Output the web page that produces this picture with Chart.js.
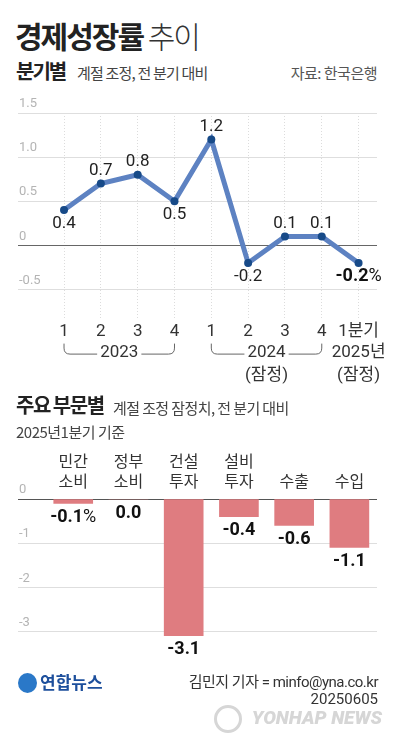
<!DOCTYPE html>
<html>
<head>
<meta charset="utf-8">
<script src="https://cdn.jsdelivr.net/npm/chart.js@4.4.1/dist/chart.umd.min.js"></script>
<style>
body{margin:0;width:396px;height:750px;background:#fff;position:relative;overflow:hidden;
  font-family:Roboto,"Noto Sans CJK KR",sans-serif;color:#222}
.t{position:absolute;white-space:nowrap;line-height:1}
canvas{position:absolute;left:0}
</style>
</head>
<body>
<div class="t" style="left:15px;top:20px;font-size:30px;letter-spacing:-2px;font-family:'Noto Sans CJK KR'"><b>경제성장률</b> <span style="font-weight:300;color:#333">추이</span></div>
<div class="t" style="left:16px;top:61px;font-size:20px;letter-spacing:-2px;font-family:'Noto Sans CJK KR'"><b>분기별</b></div>
<div class="t" style="left:77px;top:65px;font-size:15px;color:#444;letter-spacing:-0.8px;font-family:'Noto Sans CJK KR'">계절 조정, 전 분기 대비</div>
<div class="t" style="right:19px;top:65px;font-size:15px;color:#555;letter-spacing:-0.5px;font-family:'Noto Sans CJK KR'">자료: 한국은행</div>

<canvas id="growthChart" width="396" height="300" style="top:92px"></canvas>

<div class="t" style="left:16px;top:395px;font-size:20px;letter-spacing:-1.5px;font-family:'Noto Sans CJK KR'"><b>주요 부문별</b></div>
<div class="t" style="left:113px;top:400px;font-size:15px;color:#444;letter-spacing:-0.6px;font-family:'Noto Sans CJK KR'">계절 조정 잠정치, 전 분기 대비</div>
<div class="t" style="left:16px;top:424px;font-size:15px;color:#444;letter-spacing:-0.5px;font-family:'Noto Sans CJK KR'">2025년1분기 기준</div>

<canvas id="sectorChart" width="396" height="225" style="top:440px"></canvas>

<div class="t" style="left:18px;top:673px;width:19px;height:20px;border-radius:50%;background:#2a78c8"></div>
<div class="t" style="left:40px;top:673px;font-size:17px;font-weight:700;color:#1d4f9c;font-family:'Noto Sans CJK KR'">연합뉴스</div>
<div class="t" style="right:18px;top:675px;font-size:15px;color:#333;letter-spacing:-0.5px">김민지 기자 = minfo@yna.co.kr</div>
<div class="t" style="right:18px;top:692px;font-size:15px;color:#333">20250605</div>
<div class="t" style="left:214px;top:705px;width:22px;height:22px;border-radius:50%;border:3px solid #d6d6d6"></div>
<div class="t" style="right:14px;top:708px;font-size:19px;font-weight:900;font-style:italic;color:#d6d6d6">YONHAP NEWS</div>

<script>
// 분기별 경제성장률 (%)
var quarterLabels = ['1', '2', '3', '4', '1', '2', '3', '4', '1분기'];
var growthValues = [0.4, 0.7, 0.8, 0.5, 1.2, -0.2, 0.1, 0.1, -0.2];
var growthTicks = [1.5, 1, 0.5, 0, -0.5];
var growthTickLabels = ['1.5', '1.0', '0.5', '0', '-0.5'];
var yearLabels = ['2023', '2024', '2025년'];
var yearStart = [0, 4, 8];
var yearEnd = [3, 7, 8];
var yearNotes = ['', '(잠정)', '(잠정)'];

// 주요 부문별
var sectorLabels = [['민간', '소비'], ['정부', '소비'], ['건설', '투자'], ['설비', '투자'], ['수출'], ['수입']];
var sectorValues = [-0.1, 0.0, -3.1, -0.4, -0.6, -1.1];
var sectorTicks = [0, -1, -2, -3];
var sectorTickLabels = ['0', '-1', '-2', '-3'];

Chart.defaults.font.family = 'Roboto, "Noto Sans CJK KR", sans-serif';

function fmt(v) { return v.toFixed(1); }

function drawValue(ctx, text, x, y, bold, unit) {
  var size = bold ? 18 : 17;
  ctx.font = (bold ? '700 ' : '400 ') + size + 'px Roboto, "Noto Sans CJK KR"';
  var w1 = ctx.measureText(text).width;
  ctx.font = '400 ' + size + 'px Roboto';
  var w2 = unit ? ctx.measureText(unit).width : 0;
  var left = x - (w1 + w2) / 2;
  ctx.textAlign = 'left';
  ctx.textBaseline = 'middle';
  ctx.fillStyle = bold ? '#111' : '#222';
  ctx.font = (bold ? '700 ' : '400 ') + size + 'px Roboto, "Noto Sans CJK KR"';
  ctx.fillText(text, left, y);
  if (unit) {
    ctx.font = '400 ' + size + 'px Roboto';
    ctx.fillText(unit, left + w1, y);
  }
}

var growthLabelsPlugin = {
  id: 'growthLabels',
  afterDatasetsDraw: function(chart) {
    var ctx = chart.ctx;
    var meta = chart.getDatasetMeta(0);
    var last = growthValues.length - 1;
    ctx.save();
    meta.data.forEach(function(pt, i) {
      var v = growthValues[i];
      var prev = i > 0 ? growthValues[i - 1] : Infinity;
      var next = i < last ? growthValues[i + 1] : Infinity;
      var below = v < prev && v < next;
      var y = below ? pt.y + 14 : pt.y - 13;
      drawValue(ctx, fmt(v), pt.x, y, i === last, i === last ? '%' : '');
    });
    ctx.restore();
  }
};

var yearBracketPlugin = {
  id: 'yearBrackets',
  afterDraw: function(chart) {
    var ctx = chart.ctx;
    var xs = chart.scales.x;
    var base = chart.chartArea.bottom;
    ctx.save();
    ctx.font = '400 17px Roboto, "Noto Sans CJK KR"';
    ctx.textAlign = 'center';
    ctx.textBaseline = 'middle';
    ctx.fillStyle = '#333';
    ctx.strokeStyle = '#666';
    ctx.lineWidth = 1;
    yearLabels.forEach(function(label, g) {
      var x0 = xs.getPixelForValue(yearStart[g]);
      var x1 = xs.getPixelForValue(yearEnd[g]);
      var cx = (x0 + x1) / 2;
      var ty = base + 35;
      ctx.fillText(label, cx, ty);
      if (yearNotes[g]) ctx.fillText(yearNotes[g], cx, ty + 23);
      if (x1 > x0) {
        var half = ctx.measureText(label).width / 2 + 3;
        var top = base + 26, ly = base + 36.5, r = 6;
        ctx.beginPath();
        ctx.moveTo(x0, top);
        ctx.lineTo(x0, ly - r);
        ctx.quadraticCurveTo(x0, ly, x0 + r, ly);
        ctx.lineTo(cx - half, ly);
        ctx.moveTo(cx + half, ly);
        ctx.lineTo(x1 - r, ly);
        ctx.quadraticCurveTo(x1, ly, x1, ly - r);
        ctx.lineTo(x1, top);
        ctx.stroke();
      }
    });
    ctx.restore();
  }
};

new Chart(document.getElementById('growthChart'), {
  type: 'line',
  data: {
    datasets: [{
      data: growthValues.map(function(v, i) { return {x: i, y: v}; }),
      borderColor: '#5d82c2',
      borderWidth: 5,
      pointRadius: 4,
      pointBackgroundColor: '#174a88',
      pointBorderWidth: 0,
      tension: 0
    }]
  },
  options: {
    responsive: false,
    animation: false,
    layout: {padding: {left: 16, right: 19, top: 21, bottom: 46}},
    plugins: {legend: {display: false}, tooltip: {enabled: false}},
    scales: {
      x: {
        type: 'linear', min: -1.25, max: 8.5, offset: false,
        afterBuildTicks: function(s) { s.ticks = quarterLabels.map(function(t, i) { return {value: i}; }); },
        ticks: {
          callback: function(v, i) { return quarterLabels[i]; },
          font: {size: 17}, color: '#333', padding: 4, maxRotation: 0, autoSkip: false
        },
        grid: {color: '#dcdcdc', drawTicks: false},
        border: {display: false, dash: [1, 2]}
      },
      y: {
        min: -0.82, max: 1.5,
        afterBuildTicks: function(s) { s.ticks = growthTicks.map(function(v) { return {value: v}; }); },
        ticks: {
          mirror: true, padding: 1, labelOffset: -9,
          font: {size: 13}, color: '#b4b4b4',
          callback: function(v, i) { return growthTickLabels[i]; }
        },
        grid: {
          drawTicks: false,
          color: function(c) { return c.tick && c.tick.value === 0 ? '#666' : '#dedede'; }
        },
        border: {display: false}
      }
    }
  },
  plugins: [growthLabelsPlugin, yearBracketPlugin]
});

var sectorValuePlugin = {
  id: 'sectorValues',
  afterDatasetsDraw: function(chart) {
    var ctx = chart.ctx;
    var meta = chart.getDatasetMeta(0);
    ctx.save();
    meta.data.forEach(function(bar, i) {
      drawValue(ctx, fmt(sectorValues[i]), bar.x, bar.y + 14, true, i === 0 ? '%' : '');
    });
    ctx.restore();
  }
};

new Chart(document.getElementById('sectorChart'), {
  type: 'bar',
  data: {
    datasets: [{
      data: sectorValues.map(function(v, i) { return {x: i, y: v}; }),
      backgroundColor: '#df7c80',
      barThickness: 39
    }]
  },
  options: {
    responsive: false,
    animation: false,
    layout: {padding: {left: 16, right: 19, top: 7, bottom: 27}},
    plugins: {legend: {display: false}, tooltip: {enabled: false}},
    scales: {
      x: {
        type: 'linear', position: 'top', min: -1, max: 5.5, offset: false,
        afterBuildTicks: function(s) { s.ticks = sectorLabels.map(function(t, i) { return {value: i}; }); },
        ticks: {
          callback: function(v, i) { return sectorLabels[i]; },
          font: {size: 16, lineHeight: 1.25}, color: '#333', padding: 6, maxRotation: 0, autoSkip: false
        },
        grid: {display: false, drawTicks: false},
        border: {display: false}
      },
      y: {
        min: -3.15, max: 0,
        afterBuildTicks: function(s) { s.ticks = sectorTicks.map(function(v) { return {value: v}; }); },
        ticks: {
          mirror: true, padding: 1, labelOffset: -9,
          font: {size: 13}, color: '#b4b4b4',
          callback: function(v, i) { return sectorTickLabels[i]; }
        },
        grid: {
          drawTicks: false,
          color: function(c) { return c.tick && c.tick.value === 0 ? '#555' : '#dedede'; }
        },
        border: {display: false}
      }
    }
  },
  plugins: [sectorValuePlugin]
});
</script>
</body>
</html>
